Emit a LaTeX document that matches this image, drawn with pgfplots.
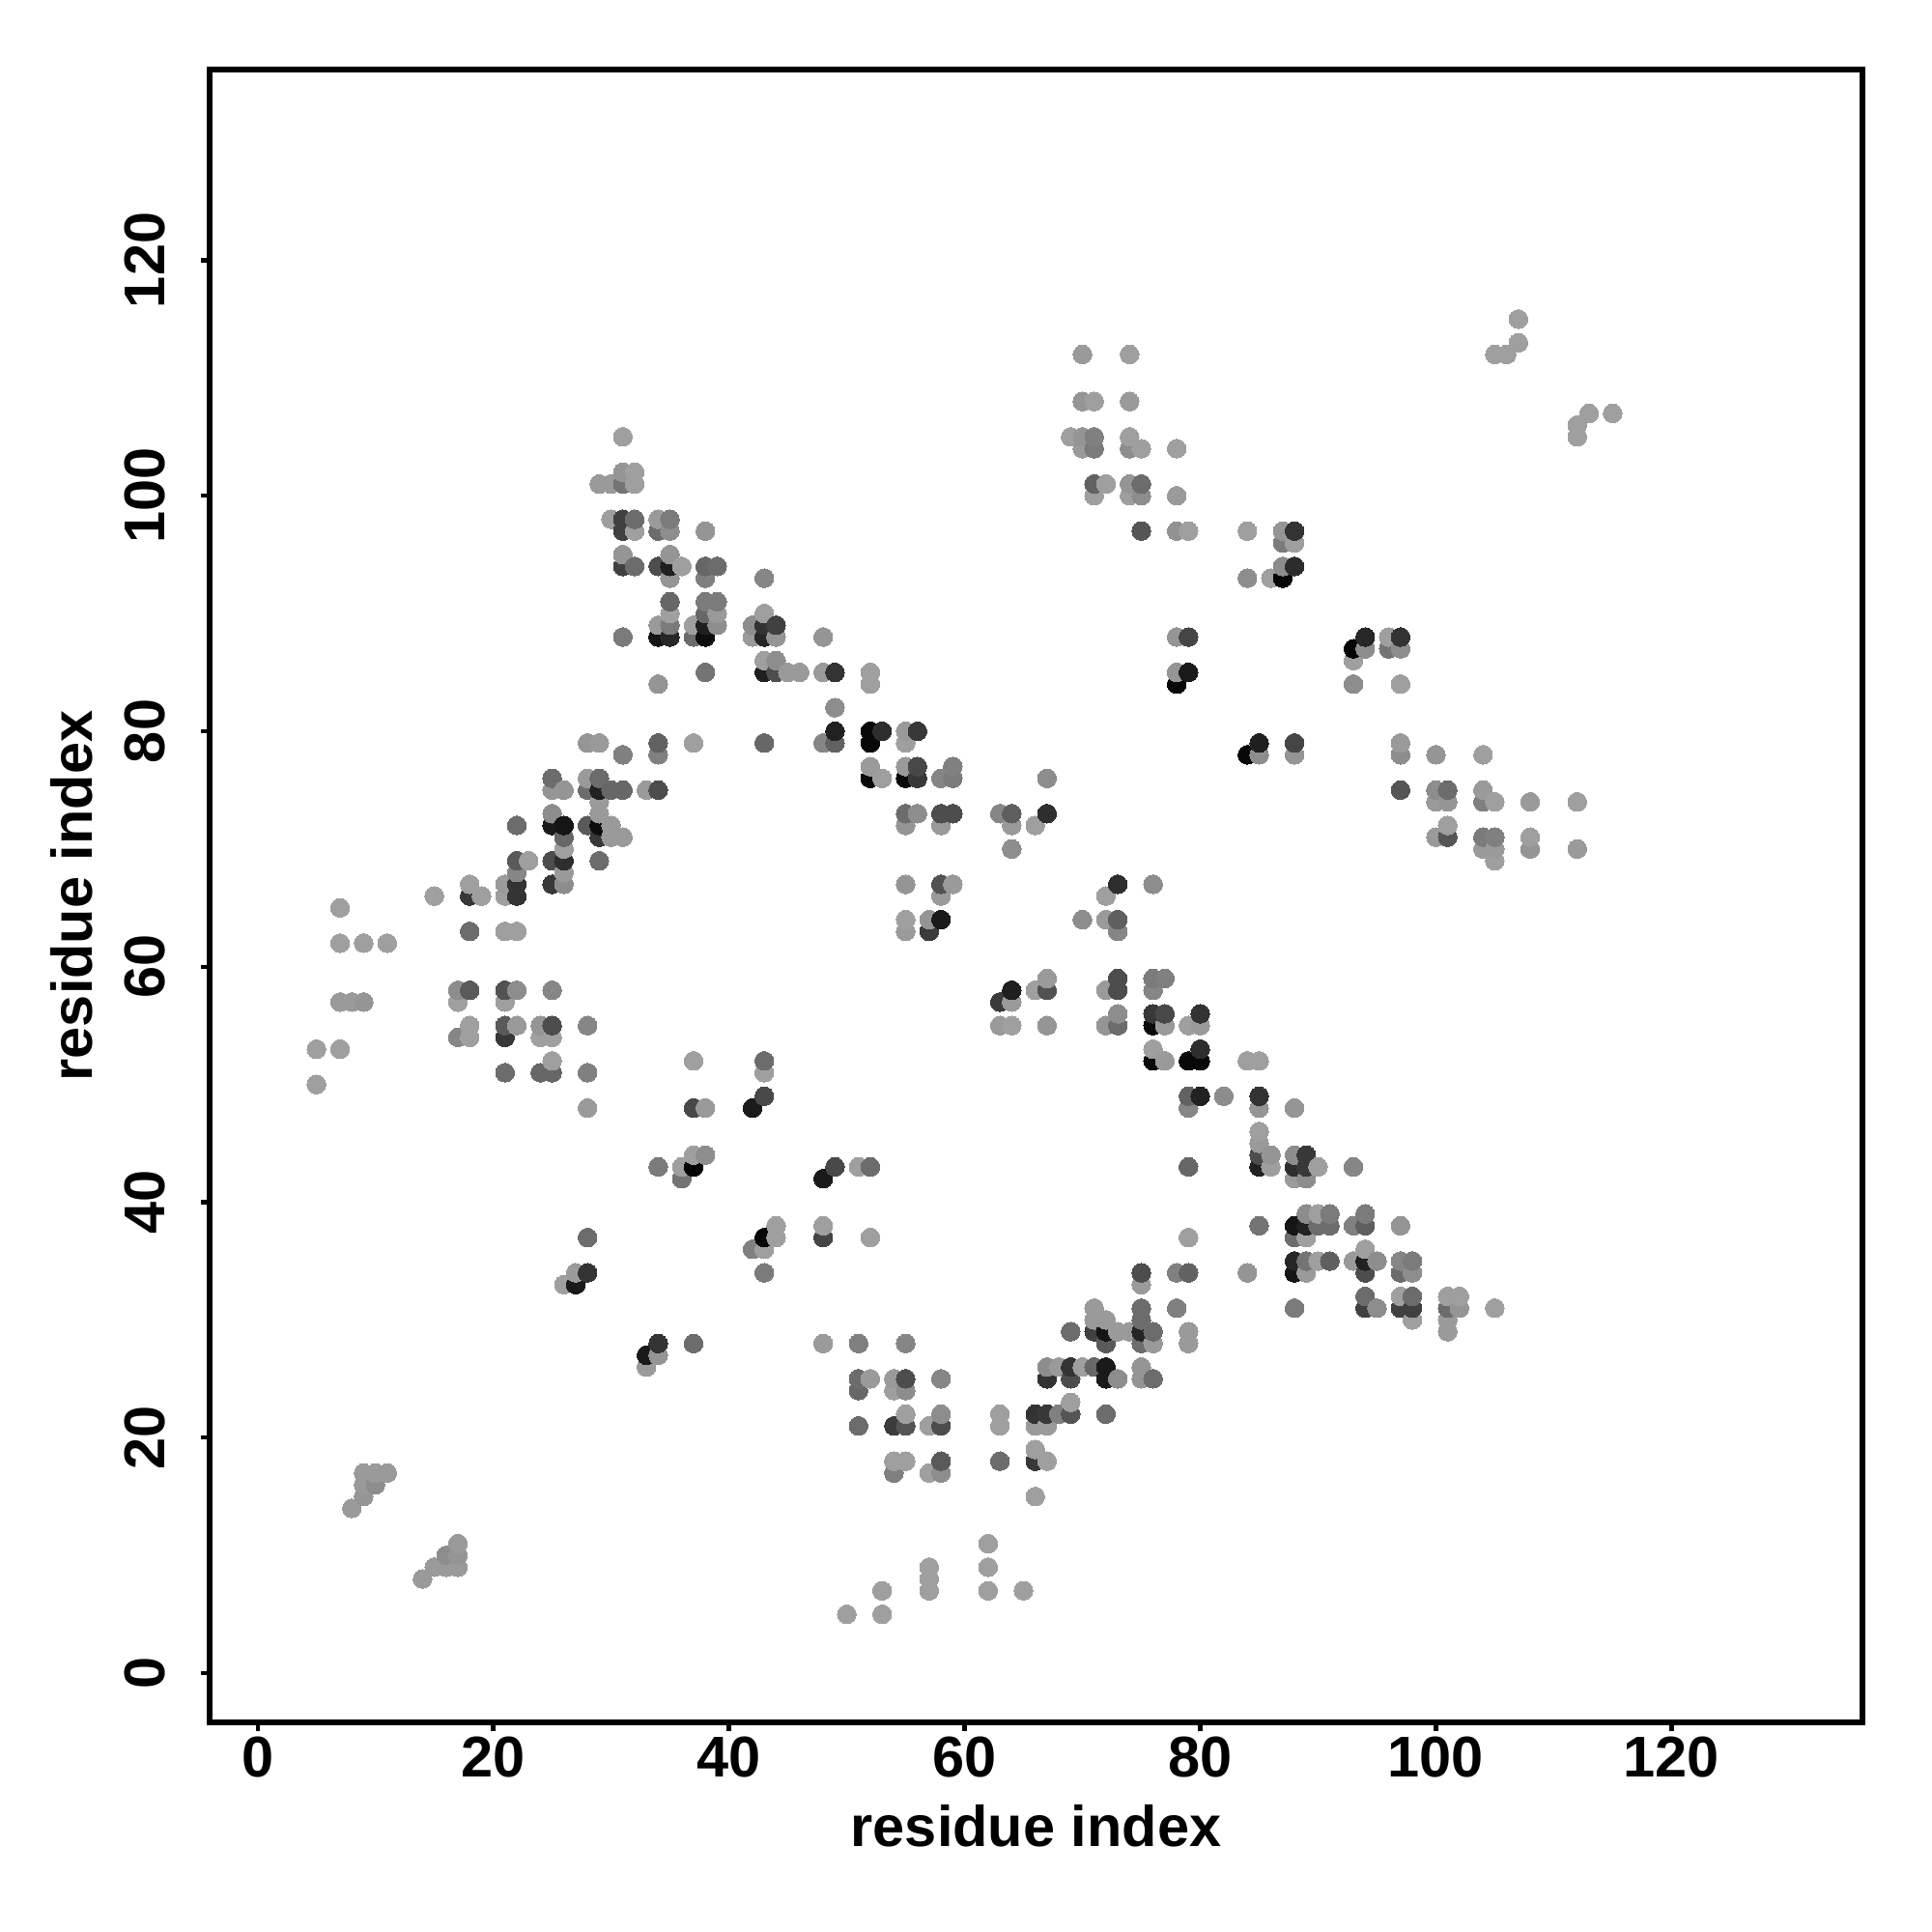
\documentclass[border=0pt]{standalone}
\usepackage{pgfplots}
\pgfplotsset{compat=1.18}
\usepackage{fontspec}
\setmainfont{Liberation Sans}
\begin{document}
\begin{tikzpicture}[x=1cm,y=1cm]
\useasboundingbox (0,0) rectangle (14,14);
\begin{axis}[
  at={(1.519cm,1.519cm)},anchor=south west,
  width=11.977cm,height=11.977cm,scale only axis,
  xmin=-4.07,xmax=136.2,ymin=-4.18,ymax=136.2,
  xtick={0,20,...,120},ytick={0,20,...,120},
  tick align=outside,tickwidth=0.65mm,
  axis line style={line width=0.42mm},
  tick style={line width=0.3mm,black},
  xtick pos=bottom,ytick pos=left,
  /pgf/number format/assume math mode=true,
  tick label style={font=\fontsize{11.85pt}{13pt}\selectfont\bfseries},
  yticklabel style={rotate=90,anchor=south,yshift=3.75pt},
  xticklabel style={yshift=2.35pt},
  label style={font=\fontsize{11.85pt}{13pt}\selectfont\bfseries},
  xlabel={residue index},ylabel={residue index},
  xlabel style={at={(0.5,0)},anchor=north,yshift=-4.74mm},
  ylabel style={at={(0,0.5)},anchor=south,yshift=7.24mm},
  colormap={g}{gray(0cm)=(0);gray(1cm)=(1)},
  point meta min=0,point meta max=1,
  clip=false,
]
\addplot[scatter,only marks,mark=*,mark size=0.68mm,point meta=explicit,
  scatter/use mapped color={draw=mapped color,fill=mapped color},
  mark options={line width=0pt}]
 table[row sep=\\,header=false,x index=0,y index=1,meta index=2]{
5 50 .62\\5 53 .62\\
7 53 .62\\7 57 .6\\7 62 .62\\7 65 .62\\
8 14 .6\\8 57 .6\\
9 15 .58\\9 16 .6\\9 17 .6\\9 57 .58\\9 62 .62\\
10 16 .55\\10 17 .6\\
11 17 .6\\11 62 .62\\
14 8 .6\\
15 9 .6\\15 66 .62\\
16 9 .6\\16 10 .55\\
17 9 .6\\17 10 .58\\17 11 .6\\17 54 .52\\17 57 .62\\17 58 .55\\
18 54 .62\\18 55 .62\\18 58 .35\\18 63 .42\\18 66 .22\\18 67 .62\\
19 66 .62\\
21 51 .42\\21 54 .22\\21 55 .35\\21 57 .62\\21 58 .32\\21 63 .62\\21 66 .62\\21 67 .6\\
22 55 .6\\22 58 .55\\22 63 .62\\22 66 .2\\22 67 .2\\22 68 .52\\22 69 .35\\22 72 .42\\
23 69 .62\\
24 51 .4\\24 54 .62\\24 55 .58\\
25 51 .4\\25 52 .62\\25 54 .62\\25 55 .3\\25 58 .52\\25 67 .22\\25 69 .3\\25 72 .1\\25 73 .55\\25 75 .58\\25 76 .42\\
26 33 .62\\26 67 .55\\26 68 .6\\26 69 .18\\26 70 .62\\26 71 .4\\26 72 .08\\26 75 .58\\
27 33 .1\\27 34 .6\\
28 34 .2\\28 37 .42\\28 48 .6\\28 51 .5\\28 55 .52\\28 72 .35\\28 75 .42\\28 76 .6\\28 79 .58\\
29 69 .42\\29 71 .22\\29 72 .05\\29 73 .6\\29 74 .6\\29 75 .13\\29 76 .42\\29 79 .6\\29 101 .6\\
30 71 .6\\30 72 .6\\30 75 .4\\30 98 .62\\30 101 .6\\
31 71 .6\\31 75 .4\\31 78 .5\\31 88 .48\\31 94 .25\\31 95 .58\\31 97 .25\\31 98 .25\\31 101 .45\\31 102 .58\\31 105 .62\\
32 94 .42\\32 97 .62\\32 98 .42\\32 101 .62\\32 102 .62\\
33 26 .6\\33 27 .1\\33 75 .6\\
34 27 .58\\34 28 .2\\34 43 .48\\34 75 .3\\34 78 .5\\34 79 .38\\34 84 .58\\34 88 .08\\34 89 .6\\34 94 .3\\34 97 .42\\34 98 .6\\
35 88 .15\\35 89 .48\\35 90 .62\\35 91 .4\\35 93 .58\\35 94 .12\\35 95 .58\\35 97 .55\\35 98 .48\\
36 42 .45\\36 43 .62\\36 94 .62\\
37 28 .42\\37 43 .02\\37 44 .62\\37 48 .28\\37 52 .62\\37 79 .62\\37 88 .42\\37 89 .62\\
38 44 .55\\38 48 .6\\38 85 .45\\38 88 .05\\38 89 .12\\38 90 .4\\38 91 .48\\38 93 .5\\38 94 .4\\38 97 .58\\
39 89 .55\\39 90 .6\\39 91 .48\\39 94 .42\\
42 36 .5\\42 48 .1\\42 88 .6\\42 89 .55\\
43 34 .48\\43 36 .62\\43 37 .03\\43 49 .28\\43 51 .62\\43 52 .42\\43 79 .4\\43 85 .12\\43 86 .62\\43 88 .15\\43 89 .2\\43 90 .62\\43 93 .52\\
44 37 .62\\44 38 .62\\44 85 .3\\44 86 .55\\44 88 .58\\44 89 .25\\
45 85 .6\\
46 85 .6\\
48 28 .6\\48 37 .27\\48 38 .62\\48 42 .1\\48 79 .52\\48 85 .6\\48 88 .58\\
49 43 .28\\49 79 .38\\49 80 .13\\49 82 .55\\49 85 .2\\
50 5 .62\\
51 21 .42\\51 24 .4\\51 25 .42\\51 28 .5\\51 43 .62\\
52 25 .6\\52 37 .62\\52 43 .42\\52 76 .04\\52 77 .6\\52 79 .03\\52 80 .03\\52 84 .62\\52 85 .62\\
53 5 .62\\53 7 .62\\53 76 .62\\53 80 .18\\
54 17 .5\\54 18 .62\\54 21 .23\\54 24 .62\\54 25 .6\\
55 18 .62\\55 21 .33\\55 22 .62\\55 24 .55\\55 25 .3\\55 28 .52\\55 63 .6\\55 64 .62\\55 67 .58\\55 72 .58\\55 73 .42\\55 76 .03\\55 77 .6\\55 79 .62\\55 80 .6\\
56 73 .55\\56 76 .22\\56 77 .28\\56 80 .22\\
57 7 .62\\57 8 .62\\57 9 .62\\57 17 .62\\57 21 .62\\57 63 .23\\57 64 .58\\
58 17 .55\\58 18 .35\\58 21 .3\\58 22 .55\\58 25 .52\\58 64 .1\\58 66 .6\\58 67 .32\\58 72 .6\\58 73 .3\\58 76 .52\\
59 67 .6\\59 73 .3\\59 76 .48\\59 77 .5\\
62 7 .62\\62 9 .62\\62 11 .62\\
63 18 .42\\63 21 .62\\63 22 .62\\63 55 .6\\63 57 .23\\63 73 .52\\
64 55 .62\\64 57 .6\\64 58 .12\\64 70 .55\\64 72 .6\\64 73 .37\\
65 7 .62\\
66 15 .62\\66 18 .22\\66 19 .62\\66 21 .6\\66 22 .2\\66 58 .62\\66 72 .62\\
67 18 .62\\67 21 .6\\67 22 .22\\67 25 .2\\67 26 .55\\67 55 .58\\67 58 .32\\67 59 .6\\67 73 .18\\67 76 .55\\
68 22 .5\\68 26 .6\\
69 22 .33\\69 23 .62\\69 25 .3\\69 26 .2\\69 29 .42\\69 105 .62\\
70 26 .62\\70 64 .55\\70 104 .6\\70 105 .58\\70 108 .58\\70 112 .6\\
71 26 .4\\71 29 .25\\71 30 .6\\71 31 .6\\71 100 .62\\71 101 .38\\71 104 .48\\71 105 .5\\71 108 .62\\
72 22 .42\\72 25 .1\\72 26 .1\\72 28 .35\\72 29 .08\\72 30 .6\\72 55 .58\\72 58 .6\\72 64 .6\\72 66 .62\\72 101 .62\\
73 25 .55\\73 29 .6\\73 55 .42\\73 56 .55\\73 58 .3\\73 59 .3\\73 63 .52\\73 64 .37\\73 67 .18\\
74 29 .6\\74 100 .62\\74 101 .58\\74 104 .55\\74 105 .62\\74 108 .6\\74 112 .62\\
75 25 .58\\75 26 .58\\75 28 .42\\75 29 .14\\75 30 .42\\75 31 .42\\75 33 .6\\75 34 .3\\75 97 .33\\75 100 .55\\75 101 .42\\75 104 .62\\
76 25 .42\\76 28 .6\\76 29 .42\\76 52 .04\\76 53 .62\\76 55 .04\\76 56 .22\\76 58 .52\\76 59 .48\\76 67 .55\\
77 52 .6\\77 55 .6\\77 56 .28\\77 59 .5\\
78 31 .5\\78 34 .5\\78 84 .03\\78 85 .58\\78 88 .58\\78 97 .57\\78 100 .6\\78 104 .62\\
79 28 .6\\79 29 .6\\79 34 .38\\79 37 .62\\79 43 .4\\79 48 .52\\79 49 .38\\79 52 .03\\79 55 .62\\79 85 .1\\79 88 .27\\79 97 .62\\
80 49 .13\\80 52 .03\\80 53 .18\\80 55 .6\\80 56 .2\\
82 49 .55\\
84 34 .58\\84 52 .62\\84 78 .03\\84 93 .55\\84 97 .62\\
85 38 .45\\85 43 .13\\85 44 .3\\85 45 .6\\85 46 .62\\85 48 .58\\85 49 .2\\85 52 .62\\85 78 .55\\85 79 .12\\
86 43 .62\\86 44 .58\\86 93 .62\\
87 93 .02\\87 94 .55\\87 96 .48\\87 97 .58\\
88 31 .48\\88 34 .08\\88 35 .15\\88 37 .42\\88 38 .08\\88 42 .6\\88 43 .18\\88 44 .55\\88 48 .58\\88 78 .58\\88 79 .27\\88 94 .17\\88 96 .62\\88 97 .2\\
89 34 .6\\89 35 .45\\89 37 .62\\89 38 .13\\89 39 .55\\89 42 .55\\89 43 .22\\89 44 .22\\
90 35 .62\\90 38 .42\\90 39 .62\\90 43 .62\\
91 35 .37\\91 38 .42\\91 39 .48\\
93 35 .6\\93 38 .5\\93 43 .52\\93 84 .55\\93 86 .62\\93 87 .02\\
94 31 .25\\94 32 .42\\94 34 .3\\94 35 .13\\94 36 .62\\94 38 .37\\94 39 .48\\94 87 .55\\94 88 .15\\
95 31 .55\\95 35 .55\\
96 87 .45\\96 88 .62\\
97 31 .25\\97 32 .62\\97 34 .42\\97 35 .52\\97 38 .58\\97 75 .33\\97 78 .55\\97 79 .6\\97 84 .62\\97 87 .55\\97 88 .2\\
98 30 .62\\98 31 .25\\98 32 .42\\98 34 .55\\98 35 .48\\
100 71 .6\\100 74 .6\\100 75 .55\\100 78 .58\\
101 29 .6\\101 30 .6\\101 31 .42\\101 32 .62\\101 71 .33\\101 72 .62\\101 74 .58\\101 75 .42\\
102 31 .58\\102 32 .62\\
104 70 .6\\104 71 .48\\104 74 .5\\104 75 .6\\104 78 .62\\
105 31 .62\\105 69 .62\\105 70 .6\\105 71 .5\\105 74 .62\\105 112 .62\\
106 112 .62\\
107 113 .62\\107 115 .62\\
108 70 .58\\108 71 .62\\108 74 .6\\
112 70 .6\\112 74 .62\\112 105 .62\\112 106 .62\\
113 107 .62\\
115 107 .62\\
};
\end{axis}
\end{tikzpicture}
\end{document}
